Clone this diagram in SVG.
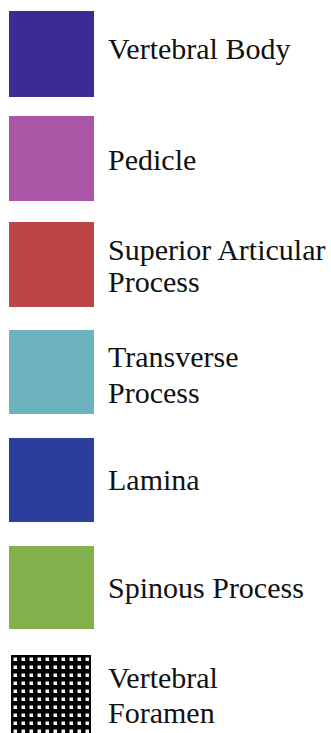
<svg xmlns="http://www.w3.org/2000/svg" width="331" height="733" viewBox="0 0 331 733">
<style>
.lbl{font-family:"Liberation Serif","Times New Roman",serif;font-size:30px;fill:#111}
</style>
<defs>
<pattern id="dots" patternUnits="userSpaceOnUse" x="11" y="655" width="8" height="8">
<rect width="8" height="8" fill="#000"/>
<rect x="2.5" y="2.5" width="3.5" height="3.5" fill="#f4f4f4"/>
</pattern>
</defs>
<rect width="331" height="733" fill="#fff"/>
<g id="vertebral-body">
<rect x="9" y="11" width="85" height="86" fill="#3d2b95"/>
<text class="lbl" x="108" y="59">Vertebral Body</text>
</g>
<g id="pedicle">
<rect x="9" y="116" width="85" height="85" fill="#aa55a5"/>
<text class="lbl" x="108" y="170">Pedicle</text>
</g>
<g id="superior-articular-process">
<rect x="9" y="222" width="85" height="85" fill="#bb4547"/>
<text class="lbl" x="108" y="260">Superior Articular</text>
<text class="lbl" x="108" y="292">Process</text>
</g>
<g id="transverse-process">
<rect x="9" y="330" width="85" height="84" fill="#6db3bf"/>
<text class="lbl" x="108" y="367">Transverse</text>
<text class="lbl" x="108" y="403">Process</text>
</g>
<g id="lamina">
<rect x="9" y="438" width="85" height="84" fill="#2b3d9d"/>
<text class="lbl" x="108" y="490">Lamina</text>
</g>
<g id="spinous-process">
<rect x="9" y="546" width="85" height="83" fill="#82b14b"/>
<text class="lbl" x="108" y="598">Spinous Process</text>
</g>
<g id="vertebral-foramen">
<rect x="11" y="655" width="80" height="78" fill="url(#dots)"/>
<text class="lbl" x="108" y="688">Vertebral</text>
<text class="lbl" x="108" y="723">Foramen</text>
</g>
<g id="connectors"/>
</svg>
